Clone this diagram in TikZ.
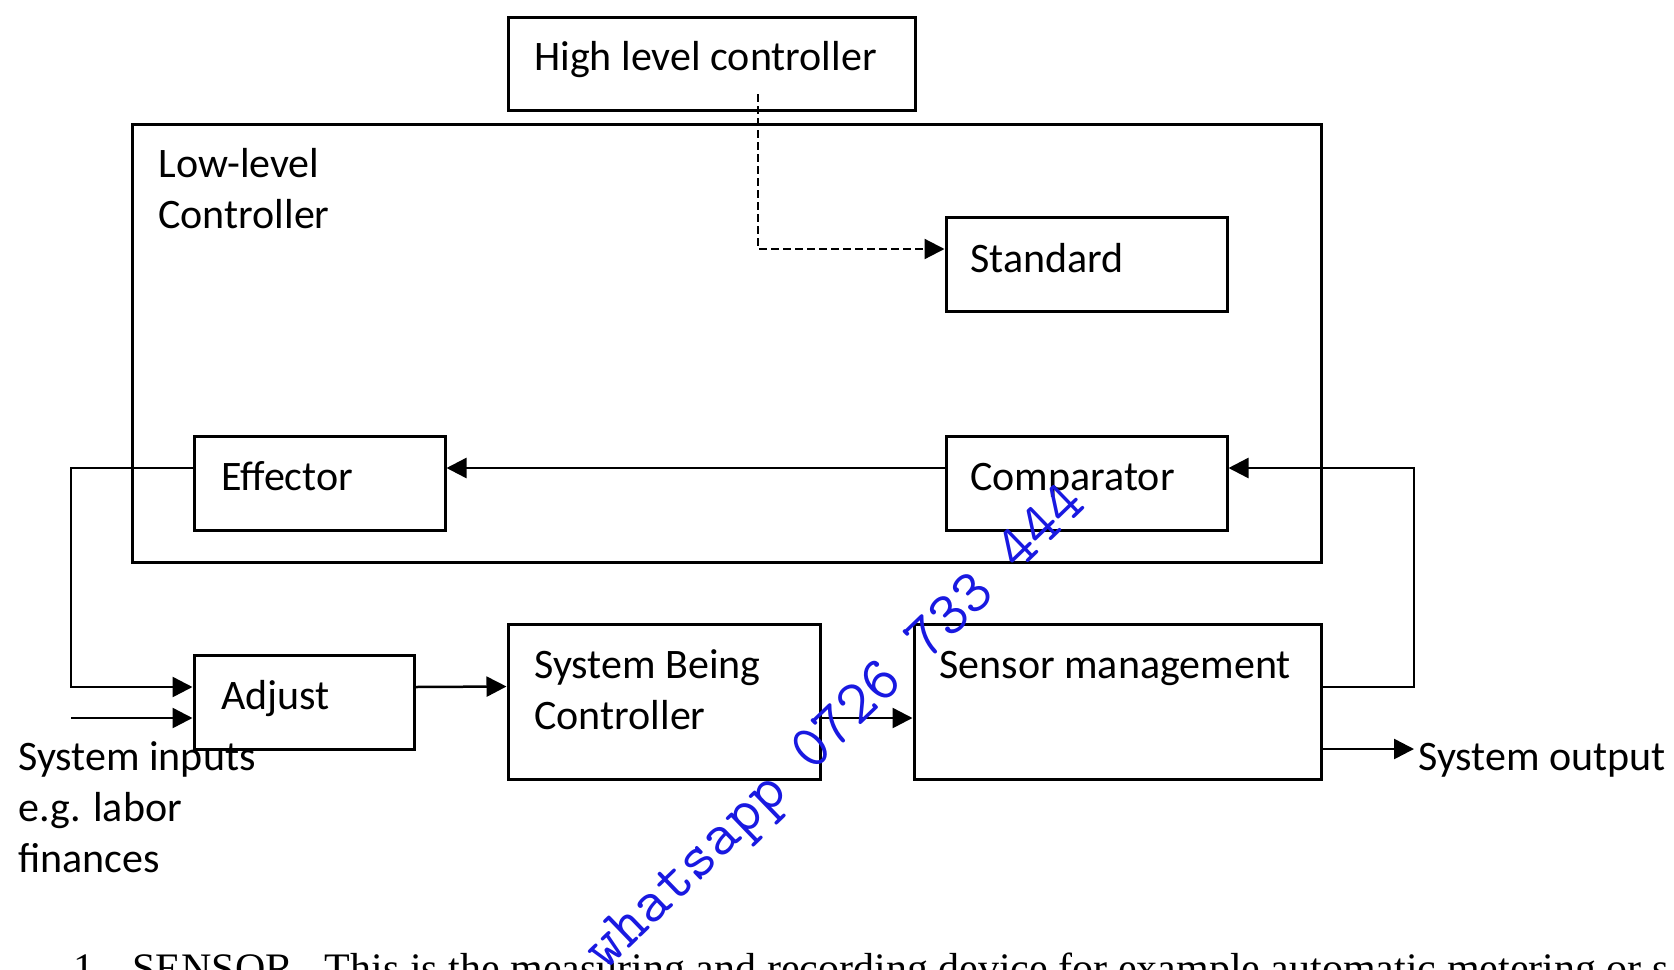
\documentclass[tikz,border=0pt]{standalone}
\usepackage{fontspec}
\setmainfont{Carlito}
\newfontfamily\tnr{Liberation Serif}
\usetikzlibrary{arrows.meta,fit}
\definecolor{wmblue}{RGB}{25,25,225}
\begin{document}
\begin{tikzpicture}[x=0.5pt,y=-0.5pt,
  box/.style={draw, line width=1.5pt, inner sep=0pt},
  lbl/.style={anchor=base west, inner sep=0pt, font=\fontsize{21pt}{25.5pt}\selectfont},
  conn/.style={line width=1.25pt, -{Triangle[length=10pt,width=10pt]}},
  dconn/.style={line width=1.1pt, dash pattern=on 4pt off 2pt, -{Triangle[length=10pt,width=10pt]}},
  plain/.style={line width=1.25pt}]
\useasboundingbox (0,0) rectangle (1674,969);
\clip (0,0) rectangle (1674,969);
\fill[white] (0,0) rectangle (1674,969);

% boxes
\node[box, fit={(508,17) (915,110)}] (hlc) {};
\node[box, fit={(132,124) (1321,562)}] (low) {};
\node[box, fit={(946,217) (1227,311)}] (std) {};
\node[box, fit={(194,436) (445,530)}] (eff) {};
\node[box, fit={(946,436) (1227,530)}] (cmp) {};
\node[box, fit={(194,655) (414,749)}] (adj) {};
\node[box, fit={(508,624) (820,779)}] (sys) {};
\node[box, fit={(914,624) (1321,779)}] (sen) {};

% labels
\node[lbl] (thlc) at (534,70) {High level controller};
\node[lbl] (tlow1) at (158,177) {Low-level};
\node[lbl] (tlow2) at (158,228) {Controller};
\node[lbl] (tstd) at (970,272) {Standard};
\node[lbl] (teff) at (221,490) {Effector};
\node[lbl] (tcmp) at (970,490) {Comparator};
\node[lbl] (tadj) at (221,709) {Adjust};
\node[lbl] (tsys1) at (534,678) {System Being};
\node[lbl] (tsys2) at (534,729) {Controller};
\node[lbl] (tsen) at (939,678) {Sensor management};
\node[lbl] (tin1) at (18,770) {System inputs};
\node[lbl] (tin2) at (18,821) {e.g. labor};
\node[lbl] (tin3) at (18,872) {finances};
\node[lbl] (tout) at (1418,770) {System output};

% coordinates
\coordinate (hs) at (758,94);
\coordinate (fbL) at (71,468);
\coordinate (fbR) at (1414,468);
\coordinate (in) at (71,718);
\coordinate (out) at (1414,749);

% connectors
\draw[dconn] (hs) |- ([yshift=7.5pt]std.west);
\draw[conn] ([yshift=7.5pt]cmp.west) -- ([yshift=7.5pt]eff.east);
\draw[conn] ([yshift=7.25pt]sen.east) -| (fbR) -- ([yshift=7.5pt]cmp.east);
\draw[conn] ([yshift=7.5pt]eff.west) -- (fbL) |- ([yshift=7.5pt]adj.west);
\draw[conn] (in) -- (in -| adj.west);
\draw[conn] ([yshift=7.5pt]adj.east) -- ([yshift=7.5pt]sys.west);
\draw[conn] ([yshift=-8.25pt]sys.east) -- ([yshift=-8.25pt]sen.west);
\draw[conn] (sen.east |- out) -- (out);

% bottom text
\node[anchor=base west, inner sep=0pt, font=\tnr\fontsize{21pt}{25pt}\selectfont] (n1) at (73,982) {1.};
\node[anchor=base west, inner sep=0pt, font=\tnr\fontsize{21pt}{25pt}\selectfont] (para) at (132,982) {SENSOR.\ \ This is the measuring and recording device for example automatic metering or s};

% watermark
\node[rotate=44, text=wmblue, inner sep=0pt, font=\ttfamily\fontsize{31pt}{31pt}\selectfont] (wm) at (838,730) {whatsapp 0726 733 444};
\end{tikzpicture}
\end{document}
